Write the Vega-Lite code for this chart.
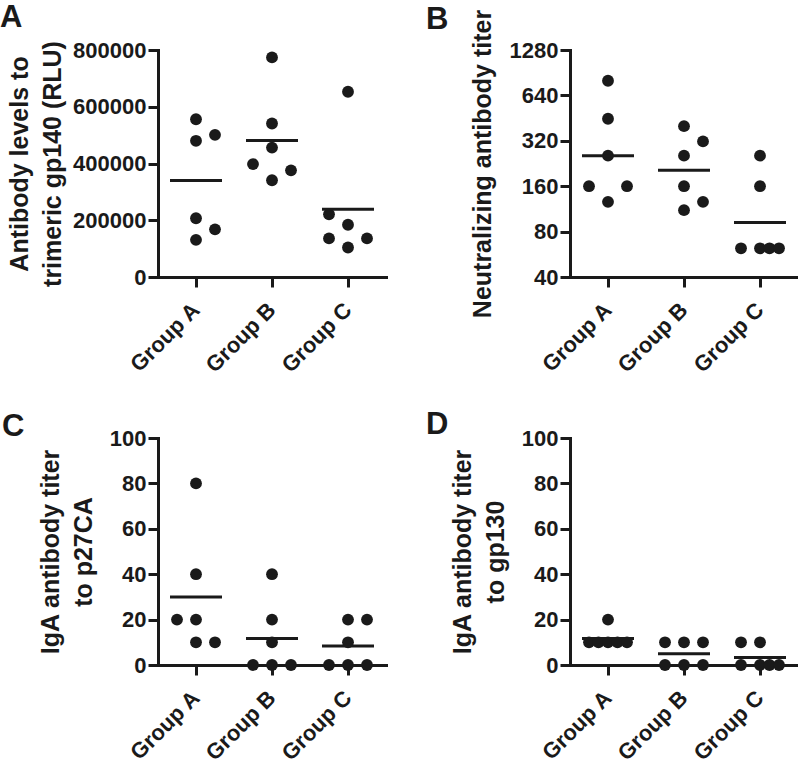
{
  "$schema": "https://vega.github.io/schema/vega-lite/v6.json",
  "padding": {"left": 0, "top": 2, "right": 0, "bottom": 0},
  "background": "white",
  "datasets": {
    "pts": [
      {"panel": "A", "group": "Group A", "column": 0, "value": 556000},
      {"panel": "A", "group": "Group A", "column": 1, "value": 501000},
      {"panel": "A", "group": "Group A", "column": 0, "value": 480000},
      {"panel": "A", "group": "Group A", "column": 0, "value": 207000},
      {"panel": "A", "group": "Group A", "column": 1, "value": 168000},
      {"panel": "A", "group": "Group A", "column": 0, "value": 131000},
      {"panel": "A", "group": "Group B", "column": 0, "value": 774000},
      {"panel": "A", "group": "Group B", "column": 0, "value": 541000},
      {"panel": "A", "group": "Group B", "column": 0, "value": 456000},
      {"panel": "A", "group": "Group B", "column": -1, "value": 398000},
      {"panel": "A", "group": "Group B", "column": 1, "value": 376000},
      {"panel": "A", "group": "Group B", "column": 0, "value": 341000},
      {"panel": "A", "group": "Group C", "column": 0, "value": 653000},
      {"panel": "A", "group": "Group C", "column": -1, "value": 221000},
      {"panel": "A", "group": "Group C", "column": 0, "value": 184000},
      {"panel": "A", "group": "Group C", "column": -1, "value": 136000},
      {"panel": "A", "group": "Group C", "column": 1, "value": 136000},
      {"panel": "A", "group": "Group C", "column": 0, "value": 104000},
      {"panel": "B", "group": "Group A", "column": 0, "value": 800},
      {"panel": "B", "group": "Group A", "column": 0, "value": 448},
      {"panel": "B", "group": "Group A", "column": 0, "value": 255},
      {"panel": "B", "group": "Group A", "column": -1, "value": 160},
      {"panel": "B", "group": "Group A", "column": 1, "value": 160},
      {"panel": "B", "group": "Group A", "column": 0, "value": 126},
      {"panel": "B", "group": "Group B", "column": 0, "value": 400},
      {"panel": "B", "group": "Group B", "column": 1, "value": 317},
      {"panel": "B", "group": "Group B", "column": 0, "value": 255},
      {"panel": "B", "group": "Group B", "column": 0, "value": 160},
      {"panel": "B", "group": "Group B", "column": 1, "value": 126},
      {"panel": "B", "group": "Group B", "column": 0, "value": 111},
      {"panel": "B", "group": "Group C", "column": 0, "value": 255},
      {"panel": "B", "group": "Group C", "column": 0, "value": 160},
      {"panel": "B", "group": "Group C", "column": -1, "value": 62},
      {"panel": "B", "group": "Group C", "column": 0, "value": 62},
      {"panel": "B", "group": "Group C", "column": 0.5, "value": 62},
      {"panel": "B", "group": "Group C", "column": 1, "value": 62},
      {"panel": "C", "group": "Group A", "column": 0, "value": 80},
      {"panel": "C", "group": "Group A", "column": 0, "value": 40},
      {"panel": "C", "group": "Group A", "column": -1, "value": 20},
      {"panel": "C", "group": "Group A", "column": 0, "value": 20},
      {"panel": "C", "group": "Group A", "column": 0, "value": 10},
      {"panel": "C", "group": "Group A", "column": 1, "value": 10},
      {"panel": "C", "group": "Group B", "column": 0, "value": 40},
      {"panel": "C", "group": "Group B", "column": 0, "value": 20},
      {"panel": "C", "group": "Group B", "column": 0, "value": 10},
      {"panel": "C", "group": "Group B", "column": -1, "value": 0},
      {"panel": "C", "group": "Group B", "column": 0, "value": 0},
      {"panel": "C", "group": "Group B", "column": 1, "value": 0},
      {"panel": "C", "group": "Group C", "column": 0, "value": 20},
      {"panel": "C", "group": "Group C", "column": 1, "value": 20},
      {"panel": "C", "group": "Group C", "column": 0, "value": 10},
      {"panel": "C", "group": "Group C", "column": -1, "value": 0},
      {"panel": "C", "group": "Group C", "column": 0, "value": 0},
      {"panel": "C", "group": "Group C", "column": 1, "value": 0},
      {"panel": "D", "group": "Group A", "column": 0, "value": 20},
      {"panel": "D", "group": "Group A", "column": -1, "value": 10},
      {"panel": "D", "group": "Group A", "column": -0.5, "value": 10},
      {"panel": "D", "group": "Group A", "column": 0, "value": 10},
      {"panel": "D", "group": "Group A", "column": 0.5, "value": 10},
      {"panel": "D", "group": "Group A", "column": 1, "value": 10},
      {"panel": "D", "group": "Group B", "column": -1, "value": 10},
      {"panel": "D", "group": "Group B", "column": 0, "value": 10},
      {"panel": "D", "group": "Group B", "column": 1, "value": 10},
      {"panel": "D", "group": "Group B", "column": -1, "value": 0},
      {"panel": "D", "group": "Group B", "column": 0, "value": 0},
      {"panel": "D", "group": "Group B", "column": 1, "value": 0},
      {"panel": "D", "group": "Group C", "column": -1, "value": 10},
      {"panel": "D", "group": "Group C", "column": 0, "value": 10},
      {"panel": "D", "group": "Group C", "column": -1, "value": 0},
      {"panel": "D", "group": "Group C", "column": 0, "value": 0},
      {"panel": "D", "group": "Group C", "column": 0.5, "value": 0},
      {"panel": "D", "group": "Group C", "column": 1, "value": 0}
    ],
    "bmean": [
      {"group": "Group A", "value": 255},
      {"group": "Group B", "value": 204},
      {"group": "Group C", "value": 92}
    ]
  },
  "columns": 2,
  "spacing": {"row": 33, "column": 40},
  "concat": [
    {
      "title": {"text": "A", "anchor": "start", "frame": "group", "dx": -158, "offset": 5},
      "width": 228, "height": 227,
      "data": {"name": "pts"},
      "transform": [{"filter": "datum.panel == 'A'"}],
      "layer": [
        {
          "mark": {"type": "circle", "size": 140, "opacity": 1, "color": "#1a1a1a"},
          "encoding": {
            "x": {"field": "group", "type": "nominal", "scale": {"paddingInner": 0, "paddingOuter": 0}, "axis": {"title": null}},
            "xOffset": {"field": "column", "type": "quantitative", "scale": {"domain": [-2, 2]}},
            "y": {"field": "value", "type": "quantitative", "scale": {"domain": [0, 800000], "nice": false}, "axis": {"values": [0, 200000, 400000, 600000, 800000], "format": "d", "titlePadding": 7, "title": ["Antibody levels to", "trimeric gp140 (RLU)"]}}
          }
        },
        {
          "mark": {"type": "tick", "size": 52, "thickness": 3, "opacity": 1, "color": "#1a1a1a"},
          "encoding": {
            "x": {"field": "group", "type": "nominal"},
            "y": {"aggregate": "mean", "field": "value", "type": "quantitative"}
          }
        }
      ]
    },
    {
      "title": {"text": "B", "anchor": "start", "frame": "group", "dx": -144, "offset": -27},
      "width": 228, "height": 227,
      "layer": [
        {
          "data": {"name": "pts"},
          "transform": [{"filter": "datum.panel == 'B'"}],
          "mark": {"type": "circle", "size": 140, "opacity": 1, "color": "#1a1a1a"},
          "encoding": {
            "x": {"field": "group", "type": "nominal", "scale": {"paddingInner": 0, "paddingOuter": 0}, "axis": {"title": null}},
            "xOffset": {"field": "column", "type": "quantitative", "scale": {"domain": [-2, 2]}},
            "y": {"field": "value", "type": "quantitative", "scale": {"type": "log", "base": 2, "domain": [40, 1280], "nice": false}, "axis": {"values": [40, 80, 160, 320, 640, 1280], "format": "d", "titlePadding": 14, "title": "Neutralizing antibody titer"}}
          }
        },
        {
          "data": {"name": "bmean"},
          "mark": {"type": "tick", "size": 52, "thickness": 3, "opacity": 1, "color": "#1a1a1a"},
          "encoding": {
            "x": {"field": "group", "type": "nominal"},
            "y": {"field": "value", "type": "quantitative"}
          }
        }
      ]
    },
    {
      "title": {"text": "C", "anchor": "start", "frame": "group", "dx": -156, "offset": -16},
      "width": 228, "height": 227,
      "data": {"name": "pts"},
      "transform": [{"filter": "datum.panel == 'C'"}],
      "layer": [
        {
          "mark": {"type": "circle", "size": 140, "opacity": 1, "color": "#1a1a1a"},
          "encoding": {
            "x": {"field": "group", "type": "nominal", "scale": {"paddingInner": 0, "paddingOuter": 0}, "axis": {"title": null}},
            "xOffset": {"field": "column", "type": "quantitative", "scale": {"domain": [-2, 2]}},
            "y": {"field": "value", "type": "quantitative", "scale": {"domain": [0, 100], "nice": false}, "axis": {"values": [0, 20, 40, 60, 80, 100], "titlePadding": 13, "title": ["IgA antibody titer", "to p27CA"]}}
          }
        },
        {
          "mark": {"type": "tick", "size": 52, "thickness": 3, "opacity": 1, "color": "#1a1a1a"},
          "encoding": {
            "x": {"field": "group", "type": "nominal"},
            "y": {"aggregate": "mean", "field": "value", "type": "quantitative"}
          }
        }
      ]
    },
    {
      "title": {"text": "D", "anchor": "start", "frame": "group", "dx": -144, "offset": -14},
      "width": 228, "height": 227,
      "data": {"name": "pts"},
      "transform": [{"filter": "datum.panel == 'D'"}],
      "layer": [
        {
          "mark": {"type": "circle", "size": 140, "opacity": 1, "color": "#1a1a1a"},
          "encoding": {
            "x": {"field": "group", "type": "nominal", "scale": {"paddingInner": 0, "paddingOuter": 0}, "axis": {"title": null}},
            "xOffset": {"field": "column", "type": "quantitative", "scale": {"domain": [-2, 2]}},
            "y": {"field": "value", "type": "quantitative", "scale": {"domain": [0, 100], "nice": false}, "axis": {"values": [0, 20, 40, 60, 80, 100], "titlePadding": 13, "title": ["IgA antibody titer", "to gp130"]}}
          }
        },
        {
          "mark": {"type": "tick", "size": 52, "thickness": 3, "opacity": 1, "color": "#1a1a1a"},
          "encoding": {
            "x": {"field": "group", "type": "nominal"},
            "y": {"aggregate": "mean", "field": "value", "type": "quantitative"}
          }
        }
      ]
    }
  ],
  "config": {
    "font": "Liberation Sans",
    "view": {"stroke": null},
    "title": {"fontSize": 31, "fontWeight": "bold", "color": "#1a1a1a", "font": "Liberation Sans"},
    "axis": {
      "grid": false,
      "domainColor": "#1a1a1a",
      "domainWidth": 3,
      "domainCap": "square",
      "tickColor": "#1a1a1a",
      "tickWidth": 3,
      "tickSize": 10,
      "labelFont": "Liberation Sans",
      "labelFontWeight": "bold",
      "labelFontSize": 22,
      "labelColor": "#1a1a1a",
      "labelPadding": 2,
      "titleFont": "Liberation Sans",
      "titleFontSize": 25,
      "titleFontWeight": "bold",
      "titleColor": "#1a1a1a",
      "titleLineHeight": 33
    },
    "axisX": {"labelAngle": -45, "labelAlign": "right", "labelBaseline": "middle", "labelPadding": 19}
  }
}
